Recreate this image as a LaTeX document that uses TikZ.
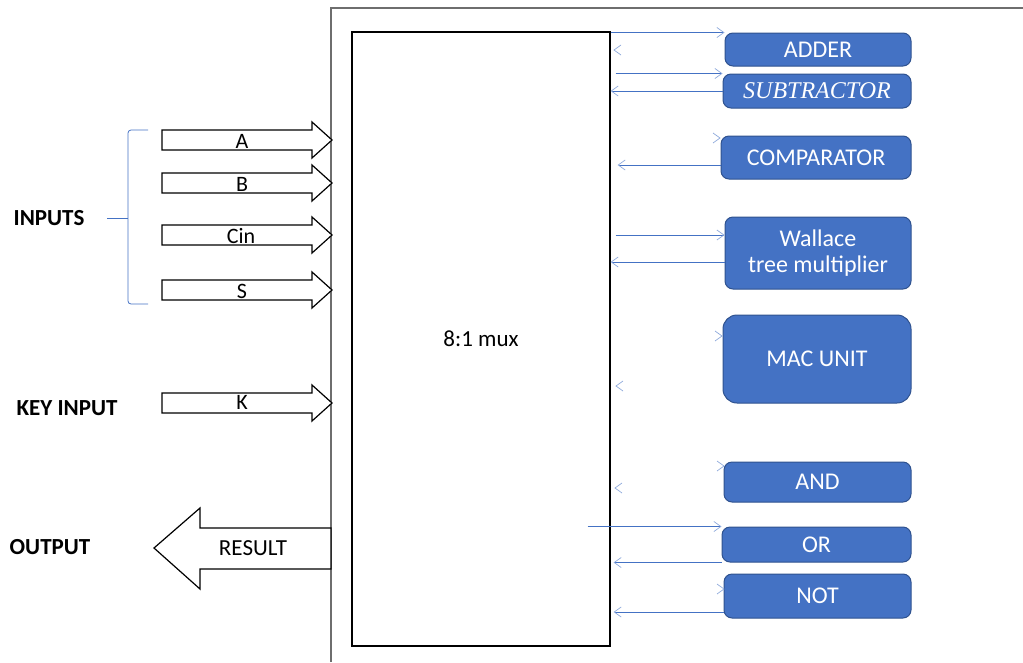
\documentclass[tikz,border=0pt]{standalone}
\usepackage{fontspec}
\setmainfont{Carlito}
\newfontfamily\serifit{Liberation Serif}
\usepackage{tikz}
\usetikzlibrary{arrows.meta, positioning, calc}
\definecolor{boxblue}{RGB}{68, 114, 196}
\definecolor{boxedge}{RGB}{47, 82, 143}
\definecolor{headblue}{RGB}{143, 170, 220}
\definecolor{framegray}{RGB}{110, 110, 110}

\begin{document}
\begin{tikzpicture}[x=1pt, y=-1pt,
    unit/.style={draw=boxedge, fill=boxblue, line width=1pt, rounded corners=8pt, text=white, font=\fontsize{24}{26}\selectfont, align=center, inner sep=0pt},
    link/.style={draw=boxblue, line width=0.8pt, -{Straight Barb[length=7pt, width=10pt, color=headblue, line width=0.7pt]}},
    chev/.style={draw=headblue, line width=0.7pt},
    bigarrow/.style={draw=black, fill=white, line width=1.2pt},
    side/.style={font=\fontsize{23}{26}\selectfont\bfseries},
    sig/.style={font=\fontsize{22}{24}\selectfont, inner sep=0pt}
]
    \useasboundingbox (0,0) rectangle (1023,662);

    % Frame
    \draw[framegray, line width=2pt] (331,662) -- (331,8) -- (1030,8);

    % Mux
    \node[draw, line width=1.2pt, minimum width=258pt, minimum height=614pt, inner sep=0pt, font=\fontsize{23}{26}\selectfont] (mux) at (481,339) {8:1 mux};

    % Units
    \node[unit, minimum width=186pt, minimum height=33pt] (adder) at (818,49.5) {ADDER};
    \node[unit, minimum width=188pt, minimum height=34pt, font=\fontsize{24}{26}\serifit\itshape] (sub) at (817,91) {SUBTRACTOR};
    \node[unit, minimum width=190pt, minimum height=43pt] (comp) at (816,157.5) {COMPARATOR};
    \node[unit, minimum width=186pt, minimum height=72pt] (wallace) at (818,253) {Wallace\\tree multiplier};
    \node[unit, minimum width=188pt, minimum height=88pt, rounded corners=14pt] (mac) at (817,359) {MAC UNIT};
    \node[unit, minimum width=187pt, minimum height=40pt] (andgate) at (817.5,482) {AND};
    \node[unit, minimum width=189pt, minimum height=35pt] (orgate) at (816.5,544.5) {OR};
    \node[unit, minimum width=187pt, minimum height=44pt] (notgate) at (817.5,596) {NOT};

    % Mux to units
    \draw[link] (mux.east |- adder.north) -- (adder.north west);
    \draw[link] ($(mux.east |- sub.north)+(5,0)$) -- (sub.north west);
    \draw[link] ($(mux.east |- 0,235)+(5,0)$) -- (wallace.west |- 0,235);
    \draw[link] ($(mux.east |- orgate.north)+(-23,0)$) -- (orgate.north west);

    % Units back to mux
    \draw[link] (sub.west) -- (mux.east |- sub.west);
    \draw[link] (comp.west |- 0,165) -- ($(mux.east |- 0,165)+(7,0)$);
    \draw[link] (wallace.west |- 0,262) -- (mux.east |- 0,262);
    \draw[link] (orgate.south west) -- ($(mux.east |- orgate.south)+(3,0)$);
    \draw[link] (notgate.west |- 0,612) -- ($(mux.east |- 0,612)+(3,0)$);

    % Loose heads
    \foreach \x/\y in {720/138, 722/336, 724/466, 724/589}
        \draw[chev] (\x-7,\y-5) -- (\x,\y) -- (\x-7,\y+5);
    \foreach \x/\y in {614/50, 616/386, 615/488}
        \draw[chev] (\x+7,\y-5) -- (\x,\y) -- (\x+7,\y+5);

    % Input arrows
    \foreach \y in {140,183,235,290,403}
        \draw[bigarrow] (162,\y-10) -- (312,\y-10) -- (312,\y-18) -- (332,\y) -- (312,\y+18) -- (312,\y+10) -- (162,\y+10) -- cycle;
    \node[sig] (a) at (242,141) {A};
    \node[sig] (b) at (242,184) {B};
    \node[sig] (cin) at (241,236) {Cin};
    \node[sig] (s) at (242,291) {S};
    \node[sig] (k) at (242,402) {K};

    % Output arrow
    \draw[bigarrow] (331,528) -- (200,528) -- (200,508) -- (154,548) -- (200,589) -- (200,569) -- (331,569) -- cycle;
    \node[font=\fontsize{23}{26}\selectfont] (result) at (253,548) {RESULT};

    % Side labels
    \node[side] (inputs) at (49,218) {INPUTS};
    \node[side] (keyin) at (67,408) {KEY INPUT};
    \node[side] (output) at (50,547) {OUTPUT};

    % Brace
    \draw[boxblue, line width=0.8pt, rounded corners=3pt] (148,130) -- (128,130) -- (128,304) -- (148,304);
    \draw[boxblue, line width=0.8pt] (128,218) -- (107,218);
\end{tikzpicture}
\end{document}
